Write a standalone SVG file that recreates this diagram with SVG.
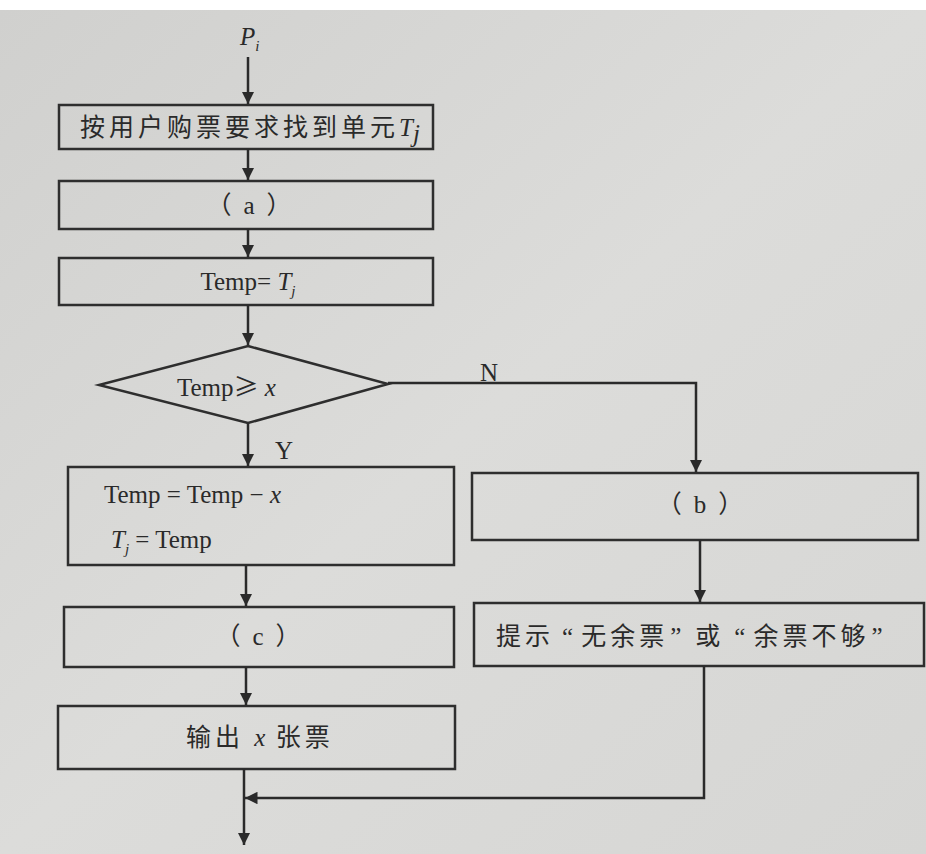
<svg xmlns="http://www.w3.org/2000/svg" width="926" height="854" viewBox="0 0 926 854">
<defs>
<marker id="ah" viewBox="0 0 10 10" refX="10" refY="5" markerWidth="5" markerHeight="5" markerUnits="strokeWidth" orient="auto">
<path d="M0,0 L10,5 L0,10 z" fill="#2a2a2a"/>
</marker>
<linearGradient id="bg" x1="0" y1="0" x2="1" y2="1">
<stop offset="0" stop-color="#d0d0ce"/>
<stop offset="0.5" stop-color="#dcdcda"/>
<stop offset="1" stop-color="#d6d6d4"/>
</linearGradient>
</defs>
<style>
.box{fill:none;stroke:#2e2e2e;stroke-width:2.5}
.ln{fill:none;stroke:#2a2a2a;stroke-width:2.5}
.t{font-family:"Liberation Serif","Noto Sans CJK SC",serif;font-size:25px;fill:#2a2a2a}
.c{font-family:"Liberation Serif","Noto Sans CJK SC",serif;font-size:25px;fill:#2a2a2a;letter-spacing:4px}
.p{font-family:"Noto Sans CJK SC",sans-serif;font-size:25px;fill:#2a2a2a}
.l{font-family:"Liberation Serif",serif}
.i{font-style:italic}
</style>
<rect x="0" y="0" width="926" height="854" fill="#ffffff"/>
<rect x="0" y="10" width="926" height="844" fill="url(#bg)"/>

<g id="start">
<text class="t" x="240" y="45"><tspan class="i">P</tspan><tspan class="i" font-size="15" dy="6">i</tspan></text>
</g>

<g id="find">
<rect class="box" x="59" y="105" width="374" height="44"/>
<text class="c" x="80" y="136">按用户购票要求找到单元<tspan class="t i" letter-spacing="0">T</tspan><tspan class="t i" font-size="15" dy="6" letter-spacing="0">j</tspan></text>
</g>

<g id="a">
<rect class="box" x="59" y="181" width="374" height="48"/>
<text class="p" x="249" y="214" text-anchor="middle">（<tspan class="l" dx="12">a</tspan><tspan dx="12">）</tspan></text>
</g>

<g id="temp">
<rect class="box" x="59" y="258" width="374" height="47"/>
<text class="t" x="248" y="290" text-anchor="middle">Temp= <tspan class="i">T</tspan><tspan class="i" font-size="15" dy="6">j</tspan></text>
</g>

<g id="decision">
<polygon class="box" points="248,346 388,384 248,423 99,385"/>
<text class="t" x="177" y="396">Temp<tspan font-family="Noto Sans CJK SC">≥</tspan> <tspan class="i">x</tspan></text>
</g>

<g id="update">
<rect class="box" x="68" y="467" width="386" height="98"/>
<text class="t" x="104" y="503" font-size="26">Temp = Temp − <tspan class="i">x</tspan></text>
<text class="t" x="111" y="548" font-size="26"><tspan class="i">T</tspan><tspan class="i" font-size="15" dy="6">j</tspan><tspan dy="-6"> = Temp</tspan></text>
</g>

<g id="b">
<rect class="box" x="472" y="473" width="446" height="67"/>
<text class="p" x="700" y="513" text-anchor="middle">（<tspan class="l" dx="12">b</tspan><tspan dx="12">）</tspan></text>
</g>

<g id="c">
<rect class="box" x="64" y="607" width="390" height="60"/>
<text class="p" x="258" y="645" text-anchor="middle">（<tspan class="l" dx="12">c</tspan><tspan dx="12">）</tspan></text>
</g>

<g id="prompt">
<rect class="box" x="474" y="603" width="450" height="63"/>
<text class="c" x="496" y="645" letter-spacing="5">提示<tspan dx="8">“</tspan><tspan dx="4">无余票</tspan><tspan dx="2">”</tspan><tspan dx="10">或</tspan><tspan dx="10">“</tspan><tspan dx="4">余票不够</tspan><tspan dx="2">”</tspan></text>
</g>

<g id="output">
<rect class="box" x="58" y="706" width="397" height="63"/>
<text class="c" x="186" y="746" letter-spacing="3">输出 <tspan class="t i" letter-spacing="0">x</tspan> 张票</text>
</g>

<g id="connectors">
<line class="ln" x1="248" y1="57" x2="248" y2="104" marker-end="url(#ah)"/>
<line class="ln" x1="248" y1="149" x2="248" y2="180" marker-end="url(#ah)"/>
<line class="ln" x1="248" y1="229" x2="248" y2="257" marker-end="url(#ah)"/>
<line class="ln" x1="248" y1="305" x2="248" y2="345" marker-end="url(#ah)"/>
<line class="ln" x1="248" y1="423" x2="248" y2="466" marker-end="url(#ah)"/>
<polyline class="ln" points="388,383 696,383 696,472" marker-end="url(#ah)"/>
<line class="ln" x1="700" y1="540" x2="700" y2="602" marker-end="url(#ah)"/>
<line class="ln" x1="246" y1="565" x2="246" y2="606" marker-end="url(#ah)"/>
<line class="ln" x1="246" y1="667" x2="246" y2="705" marker-end="url(#ah)"/>
<line class="ln" x1="244" y1="769" x2="244" y2="845" marker-end="url(#ah)"/>
<polyline class="ln" points="704,666 704,798 245,798" marker-end="url(#ah)"/>
<text class="t" x="480" y="381" font-size="22">N</text>
<text class="t" x="275" y="459" font-size="22">Y</text>
</g>
</svg>
